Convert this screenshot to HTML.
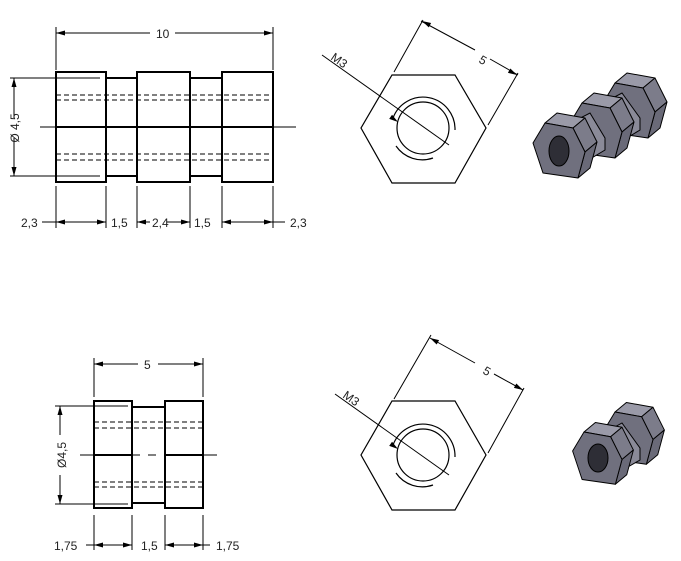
<!DOCTYPE html>
<html><head><style>html,body{margin:0;padding:0;background:#fff}svg{display:block}text{font-family:"Liberation Sans",sans-serif;font-size:12px;fill:#222}</style></head>
<body>
<svg width="681" height="561" viewBox="0 0 681 561" xmlns="http://www.w3.org/2000/svg">
<defs>
<g id="nut" stroke="#000" stroke-width="1" stroke-linejoin="round">
 <path d="M0,0 L28,5 L40,-5 L12,-10 Z" fill="#9a9aa8"/>
 <path d="M28,5 L40,29 L52,19 L40,-5 Z" fill="#7c7c8a"/>
 <path d="M40,29 L33,55 L45,45 L52,19 Z" fill="#6a6a78"/>
 <path d="M0,0 L28,5 L40,29 L33,55 L-2,50 L-12,20 Z" fill="#70707e"/>
</g>
<g id="ah"><path d="M0,0 L-9,-2.5 L-9,2.5 Z" fill="#000"/></g>
</defs>
<g fill="none" stroke="#000">
<g stroke-width="2">
<rect x="56" y="72" width="50" height="110"/><rect x="137" y="72" width="53" height="110"/><rect x="222" y="72" width="51" height="110"/>
<path d="M106,78H137M106,176H137M190,78H222M190,176H222"/>
<path d="M56,127H273"/>
</g>
<path d="M40,127H296" stroke-width="1"/>
<g stroke-dasharray="5,3" stroke-width="1"><path d="M56,95H273M56,100H273M56,154H273M56,160H273"/></g>
<path d="M56,27V70M273,27V70M56,186V228M106,186V228M137,186V228M190,186V228M222,186V228M273,186V228M10,78H100M10,176H100" stroke-width="1"/>
<path d="M56,33H150M273,33H175" stroke-width="1"/>
<path d="M14,118V78M14,138V176" stroke-width="1"/>
<path d="M42,222H106M137,222H150M167,222H190M222,222H285" stroke-width="1"/>
<g stroke-width="2">
<rect x="94" y="401" width="38" height="107"/><rect x="165" y="401" width="38" height="107"/>
<path d="M132,407H165M132,503H165M94,455H132M165,455H203"/>
</g>
<path d="M80,455H217" stroke-width="1" stroke-dasharray="60,8,8,8"/>
<g stroke-dasharray="5,3" stroke-width="1"><path d="M94,422H203M94,428H203M94,482H203M94,487H203"/></g>
<path d="M94,358V397M203,358V397M94,515V550M132,515V550M165,515V550M203,515V550M55,406H128M55,504H128" stroke-width="1"/>
<path d="M94,364H138M203,364H158" stroke-width="1"/>
<path d="M60,435V406M60,475V504" stroke-width="1"/>
<path d="M86,545H132M165,545H210" stroke-width="1"/>
<g stroke-width="1.2">
<path d="M392,75H455L486,128L455,183H392L361,128Z"/>
<circle cx="423" cy="128" r="26"/>
<path d="M393,118A32,32 0 0 1 455,130M396,146A32,32 0 0 0 433,158"/>
<path d="M392,401H455L486,455L455,510H392L361,455Z"/>
<circle cx="423" cy="455" r="26"/>
<path d="M393,445A32,32 0 0 1 455,457M396,473A32,32 0 0 0 433,485"/>
</g>
<path d="M394,72L423,20M488,125L518,73M394,399L431,335M488,453L524,388" stroke-width="1"/>
<path d="M475,50L421,21M490,59L518,75M475,363L430,338M494,374L523,390" stroke-width="1"/>
<path d="M322,55L449,145M335,394L449,475" stroke-width="1"/>
</g>
<use href="#ah" transform="translate(56,33) rotate(180)"/><use href="#ah" transform="translate(273,33)"/>
<use href="#ah" transform="translate(14,78) rotate(-90)"/><use href="#ah" transform="translate(14,176) rotate(90)"/>
<use href="#ah" transform="translate(56,222) rotate(180)"/><use href="#ah" transform="translate(106,222)"/>
<use href="#ah" transform="translate(137,222) rotate(180)"/><use href="#ah" transform="translate(190,222)"/>
<use href="#ah" transform="translate(222,222) rotate(180)"/><use href="#ah" transform="translate(273,222)"/>
<use href="#ah" transform="translate(94,364) rotate(180)"/><use href="#ah" transform="translate(203,364)"/>
<use href="#ah" transform="translate(60,406) rotate(-90)"/><use href="#ah" transform="translate(60,504) rotate(90)"/>
<use href="#ah" transform="translate(94,545) rotate(180)"/><use href="#ah" transform="translate(132,545)"/>
<use href="#ah" transform="translate(165,545) rotate(180)"/><use href="#ah" transform="translate(203,545)"/>
<use href="#ah" transform="translate(422,21) rotate(208)"/><use href="#ah" transform="translate(517,75) rotate(29)"/>
<use href="#ah" transform="translate(430,338) rotate(209)"/><use href="#ah" transform="translate(523,390) rotate(29)"/>
<use href="#ah" transform="translate(398,122) rotate(35)"/><use href="#ah" transform="translate(398,449) rotate(35)"/>
<text x="156" y="38" font-size="13">10</text>
<text x="144" y="369" font-size="13">5</text>
<text transform="translate(19,128) rotate(-90)" text-anchor="middle">Ø 4,5</text>
<text transform="translate(66,455) rotate(-90)" text-anchor="middle">Ø4,5</text>
<text x="21" y="227">2,3</text><text x="111" y="227">1,5</text><text x="152" y="227">2,4</text><text x="194" y="227">1,5</text><text x="290" y="227">2,3</text>
<text x="54" y="550">1,75</text><text x="141" y="550">1,5</text><text x="216" y="550">1,75</text>
<text transform="translate(478,62) rotate(30)">5</text>
<text transform="translate(482,373) rotate(30)">5</text>
<text transform="translate(330,59) rotate(35)" font-size="11">M3</text>
<text transform="translate(342,397) rotate(35)" font-size="11">M3</text>
<g transform="translate(615,83)"><use href="#nut"/></g>
<path d="M590,110 L622,93 L640,118 L640,130 L610,148 Z" fill="#8a8a98" stroke="#000"/>
<g transform="translate(582,103)"><use href="#nut"/></g>
<path d="M557,130 L590,113 L605,138 L605,150 L575,168 Z" fill="#8a8a98" stroke="#000"/>
<g transform="translate(545,123)"><use href="#nut"/></g>
<ellipse cx="559" cy="151" rx="10" ry="15" fill="#2e2e36" stroke="#000"/>
<g transform="translate(615,412) scale(0.95)"><use href="#nut"/></g>
<path d="M595,438 L622,423 L640,448 L640,460 L612,476 Z" fill="#8a8a98" stroke="#000"/>
<g transform="translate(584,432) scale(0.95)"><use href="#nut"/></g>
<ellipse cx="598" cy="458" rx="10" ry="14" fill="#2e2e36" stroke="#000"/>
</svg>
</body></html>
